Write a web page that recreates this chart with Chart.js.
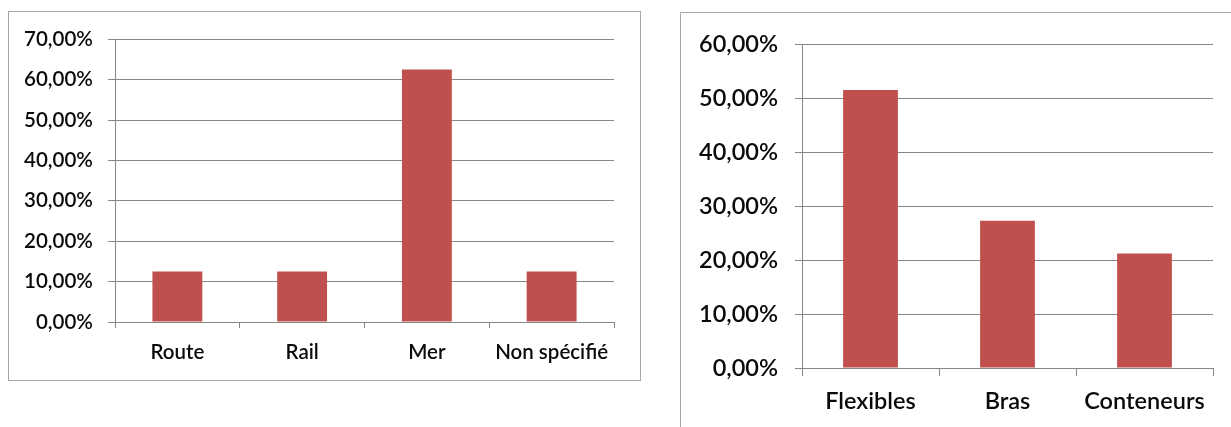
<!DOCTYPE html>
<html lang="fr">
<head>
<meta charset="utf-8">
<title>Répartition</title>
<script src="https://cdn.jsdelivr.net/npm/chart.js@4.4.1/dist/chart.umd.min.js"></script>
<style>
  html, body { margin: 0; padding: 0; background: #fff; overflow: hidden; width: 1231px; height: 427px; }
  .box { position: absolute; border: 1px solid #a6a6a6; background: #fff; box-sizing: border-box; }
  #boxMode { left: 8px; top: 11px; width: 633px; height: 370px; }
  #boxType { left: 680px; top: 12px; width: 620px; height: 480px; }
  canvas { display: block; }
</style>
</head>
<body>
<div class="box" id="boxMode"><canvas id="chartMode" width="631" height="368"></canvas></div>
<div class="box" id="boxType"><canvas id="chartType" width="550" height="414"></canvas></div>
<script>
// Mode de transport
const modeLabels = ['Route', 'Rail', 'Mer', 'Non spécifié'];
const modeValues = [12.5, 12.5, 62.5, 12.5];
const modeTicks = [0, 10, 20, 30, 40, 50, 60, 70];

// Type d'équipement
const typeLabels = ['Flexibles', 'Bras', 'Conteneurs'];
const typeValues = [51.52, 27.27, 21.21];
const typeTicks = [0, 10, 20, 30, 40, 50, 60];

const BAR = '#C0504D';
const GRID = '#878787';
const TEXT = '#0a0a0a';

const pct = v => Number(v).toFixed(2).replace('.', ',') + '%';

function makeChart(id, labels, values, ticks, cfg) {
  const ctx = document.getElementById(id).getContext('2d');
  const font = { family: 'Lato, "Open Sans", sans-serif', size: cfg.font, weight: '600' };
  return new Chart(ctx, {
    type: 'bar',
    data: {
      labels: labels,
      datasets: [{
        data: values,
        backgroundColor: BAR,
        borderWidth: 0,
        barPercentage: 0.4,
        categoryPercentage: 1.0
      }]
    },
    options: {
      responsive: false,
      animation: false,
      devicePixelRatio: 1,
      layout: { padding: { top: cfg.top, right: cfg.right, bottom: 0, left: 0 } },
      plugins: { legend: { display: false }, tooltip: { enabled: false } },
      scales: {
        x: {
          grid: {
            offset: true,
            drawOnChartArea: false,
            drawTicks: true,
            tickLength: cfg.xTick,
            color: GRID,
            lineWidth: 1
          },
          border: { display: true, color: GRID, width: 1 },
          ticks: {
            color: TEXT,
            padding: cfg.xPad,
            maxRotation: 0,
            autoSkip: false,
            font: font
          },
          afterFit: s => { s.height = cfg.xHeight; }
        },
        y: {
          min: ticks[0],
          max: ticks[ticks.length - 1],
          afterBuildTicks: s => { s.ticks = ticks.map(v => ({ value: v })); },
          grid: {
            color: GRID,
            lineWidth: 1,
            drawTicks: true,
            tickLength: 7
          },
          border: { display: true, color: GRID, width: 1 },
          ticks: {
            color: TEXT,
            padding: cfg.yPad,
            callback: v => pct(v),
            font: font
          },
          afterFit: s => { s.width = cfg.yWidth; }
        }
      }
    }
  });
}

makeChart('chartMode', modeLabels, modeValues, modeTicks, {
  top: 24, right: 26, yWidth: 106, xHeight: 58, font: 20.5, xPad: 12, yPad: 15, xTick: 6
});

makeChart('chartType', typeLabels, typeValues, typeTicks, {
  top: 28, right: 18, yWidth: 121, xHeight: 59, font: 23.5, xPad: 11, yPad: 17, xTick: 8
});
</script>
</body>
</html>
